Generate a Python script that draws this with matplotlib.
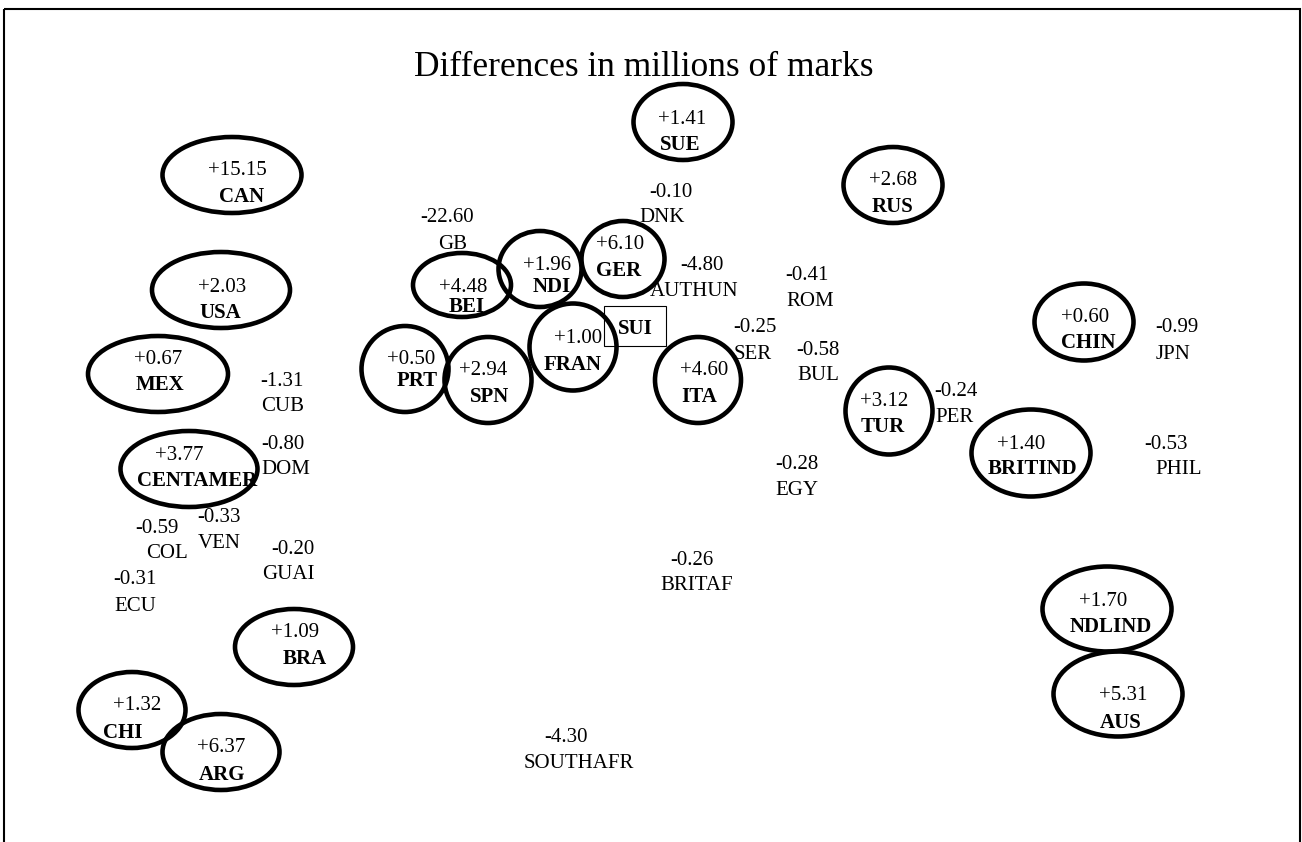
import matplotlib
matplotlib.use("Agg")
import matplotlib.pyplot as plt
from matplotlib.patches import Ellipse, Rectangle

plt.rcParams['font.family'] = ['Liberation Serif', 'DejaVu Serif']

title = "Differences in millions of marks"

# countries with a surplus (drawn in ellipses)
pos_names = ["CAN", "USA", "MEX", "CENTAMER", "BEI", "NDI", "GER", "FRAN", "PRT", "SPN",
             "ITA", "SUE", "RUS", "CHIN", "TUR", "BRITIND", "BRA", "CHI", "ARG", "NDLIND", "AUS"]
pos_values = [15.15, 2.03, 0.67, 3.77, 4.48, 1.96, 6.10, 1.00, 0.50, 2.94,
              4.60, 1.41, 2.68, 0.60, 3.12, 1.40, 1.09, 1.32, 6.37, 1.70, 5.31]
# value label, name label and ellipse placement (chart units = pixels)
pos_vx = [237, 222, 158, 179, 463, 547, 620, 578, 411, 483, 704, 682, 893, 1085, 884, 1021, 295, 137, 221, 1103, 1123]
pos_vy = [168, 285, 357, 453, 285, 263, 242, 336, 357, 368, 368, 117, 178, 315, 399, 442, 630, 703, 745, 599, 693]
pos_nx = [242, 220, 160, 197, 467, 552, 619, 573, 417, 490, 699, 680, 892, 1088, 883, 1032, 305, 123, 222, 1111, 1121]
pos_ny = [195, 311, 383, 478, 305, 285, 268, 362, 378, 395, 395, 142, 205, 341, 425, 467, 657, 730, 772, 625, 720]
ell_x = [232, 221, 158, 189, 462, 540, 623, 573, 405, 488, 698, 683, 893, 1084, 889, 1031, 294, 132, 221, 1107, 1118]
ell_y = [175, 290, 374, 469, 285, 269, 259, 347, 369, 380, 380, 122, 185, 322, 411, 453, 647, 710, 752, 609, 694]
ell_w = [139, 138, 140, 137, 98, 83, 83, 87, 87, 87, 86, 99, 99, 99, 87, 119, 118, 107, 117, 129, 129]
ell_h = [76, 76, 76, 76, 64, 76, 76, 87, 86, 86, 86, 76, 76, 77, 87, 87, 76, 76, 76, 85, 85]

# countries with a deficit (plain labels)
neg_names = ["GB", "DNK", "AUTHUN", "ROM", "SER", "BUL", "PER", "JPN", "PHIL", "EGY", "BRITAF",
             "SOUTHAFR", "CUB", "DOM", "COL", "VEN", "GUAI", "ECU"]
neg_values = [-22.60, -0.10, -4.80, -0.41, -0.25, -0.58, -0.24, -0.99, -0.53, -0.28, -0.26,
              -4.30, -1.31, -0.80, -0.59, -0.33, -0.20, -0.31]
neg_vx = [447, 671, 702, 807, 755, 818, 956, 1177, 1166, 797, 692, 566, 282, 283, 157, 219, 293, 135]
neg_vy = [215, 190, 263, 273, 325, 348, 389, 325, 442, 462, 558, 735, 379, 442, 526, 515, 547, 577]
neg_nx = [453, 662, 694, 810, 753, 818, 954, 1173, 1179, 797, 697, 579, 283, 286, 167, 219, 288, 135]
neg_ny = [242, 215, 289, 299, 352, 373, 415, 352, 467, 488, 583, 761, 404, 467, 551, 541, 572, 604]

# reference country
ref_name = "SUI"
ref_x, ref_y = 635, 326

fig = plt.figure(figsize=(13.02, 8.42), dpi=100)
ax = fig.add_axes([0, 0, 1, 1])
ax.set_xlim(0, 1302)
ax.set_ylim(842, 0)
ax.axis("off")

# outer frame (bottom edge runs off the page)
ax.add_patch(Rectangle((4, 9), 1296, 900, fill=False, lw=1.5, ec="black"))

ax.text(644, 63, title, fontsize=25.5, ha="center", va="center_baseline")

for i in range(len(pos_names)):
    ax.add_patch(Ellipse((ell_x[i], ell_y[i]), ell_w[i], ell_h[i], fill=False, lw=3.3, ec="black"))
    ax.text(pos_vx[i], pos_vy[i], f"{pos_values[i]:+.2f}", fontsize=15, ha="center", va="center_baseline")
    ax.text(pos_nx[i], pos_ny[i], pos_names[i], fontsize=15, fontweight="bold", ha="center", va="center_baseline")

for i in range(len(neg_names)):
    ax.text(neg_vx[i], neg_vy[i], f"{neg_values[i]:+.2f}", fontsize=15, ha="center", va="center_baseline")
    ax.text(neg_nx[i], neg_ny[i], neg_names[i], fontsize=15, ha="center", va="center_baseline")

ax.add_patch(Rectangle((ref_x - 31, ref_y - 20), 62, 40, fill=False, lw=0.8, ec="black"))
ax.text(ref_x, ref_y + 1, ref_name, fontsize=15, fontweight="bold", ha="center", va="center_baseline")

fig.savefig("out.png", dpi=100)
